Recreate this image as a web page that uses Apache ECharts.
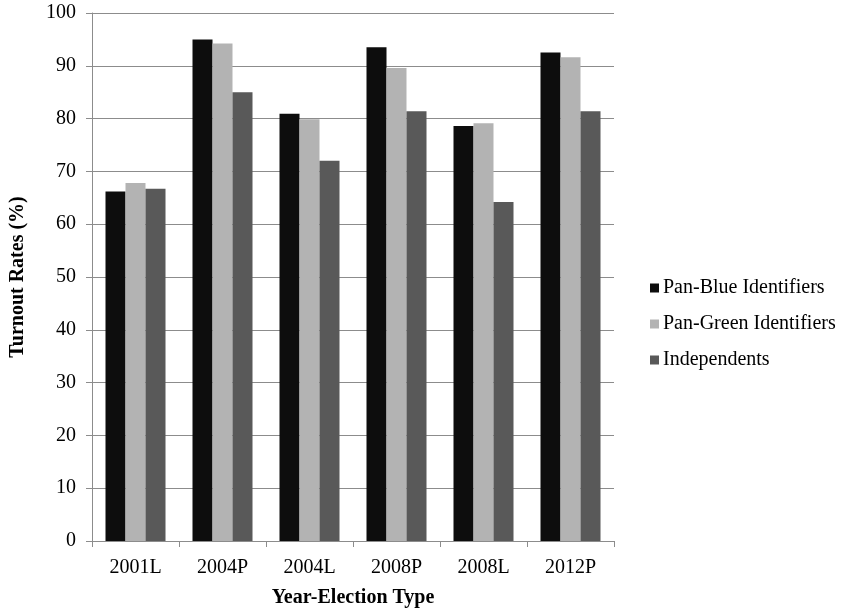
<!DOCTYPE html>
<html>
<head>
<meta charset="utf-8">
<script src="https://cdn.jsdelivr.net/npm/echarts@6/dist/echarts.min.js"></script>
<style>html,body{margin:0;padding:0;background:#fff;}#c{width:841px;height:613px;}</style>
</head>
<body>
<div id="c"></div>
<script>
var categories = ['2001L', '2004P', '2004L', '2008P', '2008L', '2012P'];
var panBlue = [66.2, 95.0, 80.9, 93.5, 78.6, 92.5];
var panGreen = [67.8, 94.2, 79.9, 89.6, 79.1, 91.6];
var independents = [66.7, 85.0, 72.0, 81.4, 64.2, 81.4];
var seriesNames = ['Pan-Blue Identifiers', 'Pan-Green Identifiers', 'Independents'];
var colors = ['#0d0d0d', '#b3b3b3', '#595959'];

var FONT = '"Liberation Serif", "Times New Roman", serif';
var chart = echarts.init(document.getElementById('c'));
function mk(name, data, color) {
  return {
    name: name, type: 'bar', data: data, barWidth: 20, barGap: '0%',
    itemStyle: { color: color },
    animation: false
  };
}
chart.setOption({
  animation: false,
  textStyle: { fontFamily: FONT, color: '#000' },
  grid: { left: 82, right: 227, top: 13, bottom: 70, containLabel: false },
  legend: {
    orient: 'vertical', left: 645, top: 273,
    itemWidth: 9, itemHeight: 9, itemGap: 16,
    icon: 'rect',
    textStyle: { fontFamily: FONT, fontSize: 20, color: '#000', lineHeight: 20, padding: [0, 0, 0, -1] },
    data: seriesNames
  },
  xAxis: {
    type: 'category', data: categories,
    name: 'Year-Election Type', nameLocation: 'middle', nameGap: 47,
    nameTextStyle: { fontFamily: FONT, fontSize: 20, fontWeight: 'bold', color: '#000' },
    axisLine: { lineStyle: { color: '#8c8c8c', width: 1 } },
    axisTick: { show: true, length: 6, lineStyle: { color: '#8c8c8c' } },
    axisLabel: { fontFamily: FONT, fontSize: 20, color: '#000', margin: 17 }
  },
  yAxis: {
    type: 'value', min: 0, max: 100, interval: 10,
    name: 'Turnout Rates (%)', nameLocation: 'middle', nameGap: 64,
    nameTextStyle: { fontFamily: FONT, fontSize: 20, fontWeight: 'bold', color: '#000' },
    axisLine: { show: true, lineStyle: { color: '#8c8c8c', width: 1 } },
    axisTick: { show: true, length: 6, lineStyle: { color: '#8c8c8c' } },
    axisLabel: { fontFamily: FONT, fontSize: 20, color: '#000', margin: 16 },
    splitLine: { lineStyle: { color: '#8c8c8c', width: 1 } }
  },
  series: [
    mk(seriesNames[0], panBlue, colors[0]),
    mk(seriesNames[1], panGreen, colors[1]),
    mk(seriesNames[2], independents, colors[2])
  ]
});
</script>
</body>
</html>
